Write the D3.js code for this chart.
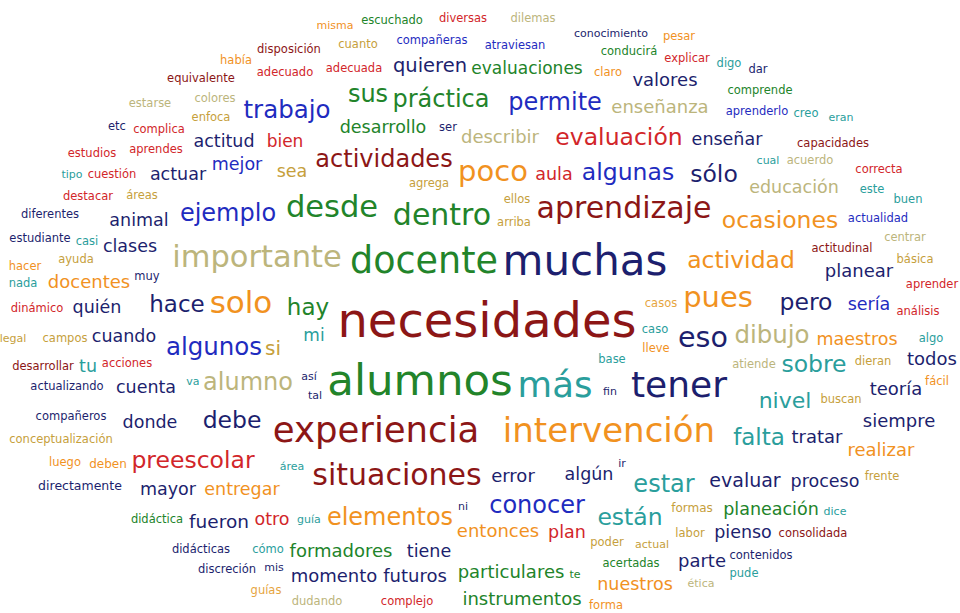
<!DOCTYPE html>
<html>
<head>
<meta charset="utf-8">
<script src="https://cdn.jsdelivr.net/npm/d3@7"></script>
<style>
  html, body { margin: 0; padding: 0; background: #ffffff; }
  svg { display: block; }
</style>
</head>
<body>
<div id="chart"></div>
<script>
// Word cloud data: [word, weight (font size), colour group]
const words = [
  ["misma",11,"orange"],["escuchado",11.5,"green"],["diversas",11.5,"red"],["dilemas",11.5,"khaki"],
  ["conocimiento",11,"navy"],["pesar",11.5,"orange"],["había",11.5,"orange"],["disposición",11.5,"maroon"],
  ["cuanto",11.5,"golden"],["compañeras",11.5,"blue"],["atraviesan",11.5,"blue"],["conducirá",11.5,"green"],
  ["explicar",11.5,"red"],["digo",11.5,"teal"],["dar",11.5,"navy"],["equivalente",11.5,"maroon"],
  ["adecuado",11.5,"red"],["adecuada",11.5,"red"],["quieren",19.5,"navy"],["evaluaciones",17,"green"],
  ["claro",11.5,"orange"],["valores",18,"navy"],["comprende",11.5,"green"],["estarse",11.5,"khaki"],
  ["colores",11.5,"khaki"],["sus",24,"green"],["práctica",24,"green"],["permite",24,"blue"],
  ["enseñanza",18,"khaki"],["aprenderlo",11.5,"blue"],["creo",11.5,"teal"],["eran",11,"teal"],
  ["etc",11.5,"navy"],["complica",11.5,"red"],["enfoca",11.5,"golden"],["trabajo",24.5,"blue"],
  ["desarrollo",17.5,"green"],["ser",11.5,"navy"],["describir",18,"khaki"],["evaluación",23.5,"red"],
  ["enseñar",17.5,"navy"],["capacidades",11.5,"maroon"],["estudios",11.5,"red"],["aprendes",11.5,"red"],
  ["actitud",17.5,"navy"],["bien",17,"red"],["cual",11,"teal"],["acuerdo",11.5,"khaki"],
  ["tipo",11,"teal"],["cuestión",11.5,"red"],["actuar",17.5,"navy"],["mejor",17.5,"blue"],
  ["sea",17.5,"golden"],["actividades",24,"maroon"],["agrega",11.5,"golden"],["poco",29,"orange"],
  ["aula",17.5,"red"],["algunas",23.5,"blue"],["sólo",23.5,"navy"],["educación",17.5,"khaki"],
  ["correcta",11.5,"red"],["destacar",11.5,"red"],["áreas",11.5,"golden"],["ellos",11.5,"golden"],
  ["este",11.5,"teal"],["buen",11.5,"teal"],["diferentes",11.5,"navy"],["animal",17.5,"navy"],
  ["ejemplo",24,"blue"],["desde",30.5,"green"],["dentro",30,"green"],["arriba",11.5,"golden"],
  ["aprendizaje",30,"maroon"],["ocasiones",23.5,"orange"],["actualidad",11.5,"blue"],["estudiante",11.5,"navy"],
  ["casi",11.5,"teal"],["clases",17.5,"navy"],["centrar",11.5,"khaki"],["importante",30.5,"khaki"],
  ["docente",36.5,"green"],["muchas",42,"navy"],["actividad",23.5,"orange"],["actitudinal",11.5,"maroon"],
  ["hacer",11.5,"orange"],["ayuda",11.5,"golden"],["básica",11.5,"golden"],["planear",18,"navy"],
  ["nada",11.5,"teal"],["docentes",18,"orange"],["muy",11.5,"navy"],["aprender",11.5,"red"],
  ["dinámico",11.5,"red"],["quién",17.5,"navy"],["hace",23,"navy"],["solo",31,"orange"],
  ["hay",23,"green"],["casos",11.5,"lightorange"],["pues",29,"orange"],["pero",23.5,"navy"],
  ["sería",17.5,"blue"],["análisis",11.5,"red"],["legal",11,"golden"],["campos",11.5,"golden"],
  ["cuando",17.5,"navy"],["necesidades",48,"maroon"],["mi",17,"teal"],["caso",11.5,"teal"],
  ["eso",28.5,"navy"],["dibujo",24.5,"khaki"],["maestros",17.5,"orange"],["algo",11.5,"teal"],
  ["algunos",24.5,"blue"],["si",20,"golden"],["lleve",11.5,"orange"],["desarrollar",11.5,"maroon"],
  ["tu",17.5,"teal"],["acciones",11.5,"red"],["base",11.5,"teal"],["atiende",11.5,"khaki"],
  ["sobre",23.5,"teal"],["dieran",11.5,"golden"],["todos",18,"navy"],["actualizando",11.5,"navy"],
  ["cuenta",17.5,"navy"],["va",11,"teal"],["alumno",24,"khaki"],["así",11,"navy"],
  ["tal",11,"navy"],["alumnos",43.5,"green"],["más",35.5,"teal"],["fin",11,"navy"],
  ["tener",36,"navy"],["teoría",18,"navy"],["fácil",11.5,"orange"],["nivel",22,"teal"],
  ["buscan",11.5,"golden"],["compañeros",11.5,"navy"],["donde",17.5,"navy"],["debe",23.5,"navy"],
  ["siempre",18,"navy"],["conceptualización",11.5,"golden"],["experiencia",35.5,"maroon"],["intervención",34,"orange"],
  ["falta",23,"teal"],["tratar",18,"navy"],["realizar",18,"orange"],["luego",11.5,"orange"],
  ["deben",12,"orange"],["preescolar",23.5,"red"],["área",11,"teal"],["ir",11,"navy"],
  ["situaciones",30,"maroon"],["error",18,"navy"],["algún",17.5,"navy"],["estar",24,"teal"],
  ["evaluar",19,"navy"],["proceso",17.5,"navy"],["frente",11.5,"golden"],["directamente",12.5,"navy"],
  ["mayor",17.5,"navy"],["entregar",17.5,"orange"],["conocer",24,"blue"],["didáctica",11.5,"green"],
  ["fueron",18.5,"navy"],["otro",17.5,"red"],["guía",11,"teal"],["elementos",24,"orange"],
  ["ni",11,"navy"],["están",23.5,"teal"],["formas",12,"golden"],["planeación",17.5,"green"],
  ["dice",11,"teal"],["entonces",18,"orange"],["plan",17.5,"red"],["labor",11.5,"golden"],
  ["pienso",17.5,"navy"],["consolidada",11.5,"maroon"],["poder",11.5,"golden"],["actual",11,"golden"],
  ["didácticas",11.5,"navy"],["cómo",11.5,"teal"],["formadores",18,"green"],["tiene",17.5,"navy"],
  ["contenidos",11.5,"navy"],["discreción",11.5,"navy"],["mis",11,"navy"],["acertadas",11.5,"green"],
  ["parte",18,"navy"],["pude",11.5,"teal"],["momento",18,"navy"],["futuros",18,"navy"],
  ["particulares",18,"green"],["te",11,"green"],["nuestros",17.5,"orange"],["ética",11,"khaki"],
  ["guías",11.5,"lightorange"],["dudando",11.5,"khaki"],["complejo",11.5,"red"],["instrumentos",18,"green"],
  ["forma",11.5,"orange"]
];

// Cloud layout: word -> [centre x, baseline y] in layout units
const layout = {
  "misma":[335,29],"escuchado":[392,24],"diversas":[463,22],"dilemas":[533,22],
  "conocimiento":[611,37],"pesar":[679,40],"había":[236,64],"disposición":[289,53],
  "cuanto":[358,48],"compañeras":[432,44],"atraviesan":[515,49],"conducirá":[629,55],
  "explicar":[687,62],"digo":[729,67],"dar":[758,73],"equivalente":[201,82],
  "adecuado":[285,76],"adecuada":[354,72],"quieren":[430,72],"evaluaciones":[527,74],
  "claro":[608,76],"valores":[665,86],"comprende":[760,94],"estarse":[150,107],
  "colores":[215,102],"sus":[368,102],"práctica":[441,107],"permite":[555,110],
  "enseñanza":[660,113],"aprenderlo":[757,115],"creo":[806,117],"eran":[841,121],
  "etc":[117,130],"complica":[159,133],"enfoca":[211,121],"trabajo":[287,118],
  "desarrollo":[383,133],"ser":[448,131],"describir":[500,143],"evaluación":[619,145],
  "enseñar":[727,145],"capacidades":[833,147],"estudios":[92,157],"aprendes":[156,153],
  "actitud":[224,147],"bien":[285,147],"cual":[768,164],"acuerdo":[810,164],
  "tipo":[72,178],"cuestión":[112,178],"actuar":[178,180],"mejor":[237,170],
  "sea":[292,177],"actividades":[384,167],"agrega":[429,187],"poco":[493,181],
  "aula":[554,180],"algunas":[628,180],"sólo":[714,182],"educación":[794,193],
  "correcta":[879,173],"destacar":[88,200],"áreas":[142,199],"ellos":[517,203],
  "este":[872,193],"buen":[908,203],"diferentes":[50,218],"animal":[139,226],
  "ejemplo":[228,221],"desde":[332,217],"dentro":[442,225],"arriba":[514,226],
  "aprendizaje":[624,218],"ocasiones":[780,228],"actualidad":[878,222],"estudiante":[40,242],
  "casi":[87,245],"clases":[130,252],"centrar":[905,241],"importante":[257,267],
  "docente":[424,273],"muchas":[585,275],"actividad":[741,268],"actitudinal":[842,252],
  "hacer":[25,270],"ayuda":[76,263],"básica":[915,263],"planear":[859,277],
  "nada":[23,287],"docentes":[89,288],"muy":[147,280],"aprender":[932,288],
  "dinámico":[37,312],"quién":[97,313],"hace":[177,312],"solo":[241,313],
  "hay":[308,315],"casos":[661,307],"pues":[718,307],"pero":[806,310],
  "sería":[869,310],"análisis":[918,315],"legal":[13,342],"campos":[65,342],
  "cuando":[124,342],"necesidades":[487,337],"mi":[314,341],"caso":[655,333],
  "eso":[703,347],"dibujo":[772,343],"maestros":[857,345],"algo":[931,342],
  "algunos":[214,355],"si":[273,355],"lleve":[656,352],"desarrollar":[43,370],
  "tu":[88,372],"acciones":[127,367],"base":[612,363],"atiende":[754,368],
  "sobre":[814,372],"dieran":[873,365],"todos":[932,365],"actualizando":[67,390],
  "cuenta":[146,393],"va":[193,385],"alumno":[248,390],"así":[309,380],
  "tal":[315,399],"alumnos":[420,395],"más":[555,397],"fin":[610,395],
  "tener":[679,397],"teoría":[896,395],"fácil":[937,385],"nivel":[785,408],
  "buscan":[841,403],"compañeros":[71,420],"donde":[150,428],"debe":[232,428],
  "siempre":[899,427],"conceptualización":[61,443],"experiencia":[376,442],"intervención":[609,442],
  "falta":[759,445],"tratar":[817,443],"realizar":[881,456],"luego":[65,466],
  "deben":[108,468],"preescolar":[193,468],"área":[292,470],"ir":[622,467],
  "situaciones":[397,485],"error":[513,482],"algún":[589,480],"estar":[664,492],
  "evaluar":[745,487],"proceso":[825,487],"frente":[882,480],"directamente":[80,490],
  "mayor":[168,495],"entregar":[242,495],"conocer":[537,513],"didáctica":[157,523],
  "fueron":[219,528],"otro":[272,525],"guía":[309,523],"elementos":[390,525],
  "ni":[463,510],"están":[630,525],"formas":[692,512],"planeación":[771,515],
  "dice":[835,515],"entonces":[498,537],"plan":[567,538],"labor":[690,537],
  "pienso":[743,538],"consolidada":[813,537],"poder":[607,546],"actual":[652,548],
  "didácticas":[201,553],"cómo":[268,553],"formadores":[341,557],"tiene":[429,557],
  "contenidos":[761,559],"discreción":[227,573],"mis":[274,571],"acertadas":[631,567],
  "parte":[702,567],"pude":[744,577],"momento":[334,582],"futuros":[415,582],
  "particulares":[511,578],"te":[575,578],"nuestros":[635,590],"ética":[701,587],
  "guías":[266,594],"dudando":[317,605],"complejo":[407,605],"instrumentos":[522,605],
  "forma":[606,609]
};

const groupNames = ["maroon","red","orange","lightorange","khaki","golden","green","teal","navy","blue"];
const groupColors = ["#8c1616","#d2262a","#f1921f","#e6a53f","#bcb57c","#c6a03c","#22842a","#2a9e9c","#1d1f6e","#1f2cbf"];

const W = 960, H = 613;
const x = d3.scaleLinear().domain([0, 960]).range([0, W]);
const y = d3.scaleLinear().domain([0, 613]).range([0, H]);
const fontSize = d3.scaleLinear().domain([0, 48]).range([0, 48]);
const color = d3.scaleOrdinal().domain(groupNames).range(groupColors);

const svg = d3.select("#chart").append("svg")
  .attr("width", W).attr("height", H)
  .attr("viewBox", `0 0 ${W} ${H}`);

svg.append("rect").attr("width", W).attr("height", H).attr("fill", "#ffffff");

svg.append("g")
  .selectAll("text")
  .data(words)
  .join("text")
  .attr("x", d => x(layout[d[0]][0]))
  .attr("y", d => y(layout[d[0]][1]))
  .attr("text-anchor", "middle")
  .attr("font-family", "'DejaVu Sans', Verdana, sans-serif")
  .attr("font-size", d => fontSize(d[1]) + "px")
  .attr("fill", d => color(d[2]))
  .text(d => d[0]);
</script>
</body>
</html>
